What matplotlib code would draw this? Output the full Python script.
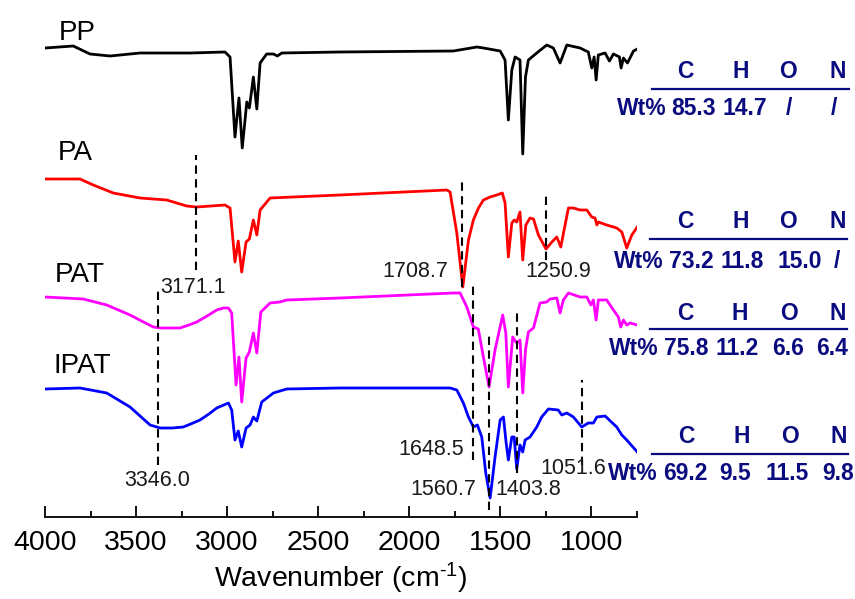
import matplotlib
matplotlib.use("Agg")
import matplotlib.pyplot as plt
from matplotlib.lines import Line2D

plt.rcParams['font.family'] = ['Liberation Sans', 'DejaVu Sans']
plt.rcParams['mathtext.fontset'] = 'custom'
plt.rcParams['mathtext.rm'] = 'Liberation Sans'
plt.rcParams['mathtext.default'] = 'regular'

# ---------------- data (wavenumber, offset transmittance, arbitrary units) ----------------
pp_x = [4000, 3845, 3753, 3643, 3478, 3204, 3012, 2984, 2957, 2935, 2917, 2892, 2878, 2856,
        2837, 2819, 2783, 2746, 2724, 2700, 2380, 1758, 1629, 1593, 1501, 1474, 1456, 1437,
        1419, 1392, 1377, 1362, 1346, 1300, 1245, 1209, 1172, 1135, 1062, 1017, 998, 985,
        974, 962, 925, 901, 879, 846, 837, 824, 802, 769, 748]
pp_y = [469, 471, 463, 461, 464, 464, 465, 460, 380, 419, 369, 415, 409, 440,
        408, 454, 463, 463, 461, 464, 465, 466, 470, 469, 466, 457, 397, 447,
        460, 457, 363, 440, 457, 464, 472, 469, 454, 472, 469, 465, 449, 460,
        437, 462, 464, 456, 463, 460, 449, 459, 454, 466, 468]

pa_x = [4000, 3808, 3735, 3625, 3478, 3332, 3222, 3167, 3012, 2984, 2957, 2939, 2920, 2896,
        2878, 2856, 2837, 2819, 2764, 2380, 1794, 1776, 1739, 1706, 1675, 1648, 1620, 1593,
        1556, 1520, 1489, 1474, 1456, 1437, 1424, 1410, 1392, 1377, 1360, 1337, 1318, 1291,
        1249, 1217, 1190, 1168, 1150, 1126, 1099, 1062, 1025, 998, 980, 970, 962, 916, 861,
        833, 806, 778, 748]
pa_y = [338, 338, 332, 324, 319, 317, 311, 310, 312, 309, 255, 276, 245, 275,
        278, 297, 282, 307, 319, 322, 327, 325, 284, 230, 277, 297, 309, 317,
        320, 322, 324, 314, 260, 294, 297, 295, 305, 257, 292, 299, 298, 282,
        268, 275, 280, 270, 287, 309, 309, 307, 307, 300, 299, 292, 295, 292, 289,
        285, 269, 282, 290]

pat_x = [4000, 3790, 3661, 3533, 3470, 3405, 3368, 3259, 3210, 3167, 3110, 3057, 3020, 2993,
         2975, 2951, 2935, 2920, 2896, 2878, 2856, 2837, 2815, 2764, 2710, 2673, 2380, 1758,
         1721, 1684, 1648, 1621, 1593, 1562, 1529, 1487, 1470, 1456, 1432, 1410, 1392, 1377,
         1362, 1346, 1318, 1282, 1245, 1227, 1190, 1172, 1154, 1126, 1062, 1025, 1003, 989,
         974, 962, 916, 879, 852, 839, 824, 806, 788, 748]
pat_y = [220, 218, 212, 202, 196, 190, 189, 189, 192, 195, 201, 207, 209, 209,
         204, 132, 160, 115, 159, 165, 184, 164, 205, 214, 215, 217, 219, 224,
         224, 210, 190, 188, 160, 130, 167, 202, 184, 130, 180, 174, 177, 124,
         167, 185, 189, 214, 215, 218, 219, 204, 217, 224, 220, 220, 212, 217,
         197, 217, 217, 207, 200, 190, 197, 192, 194, 192]

ipat_x = [4000, 3808, 3661, 3533, 3478, 3423, 3368, 3300, 3241, 3200, 3149, 3100, 3057, 2993,
          2975, 2957, 2939, 2920, 2896, 2874, 2856, 2837, 2810, 2746, 2673, 2380, 1776, 1739,
          1703, 1675, 1648, 1626, 1602, 1580, 1556, 1529, 1501, 1483, 1468, 1456, 1437, 1424,
          1410, 1392, 1377, 1364, 1337, 1300, 1273, 1236, 1182, 1163, 1135, 1099, 1053, 1017,
          989, 970, 925, 861, 833, 806, 748]
ipat_y = [128, 129, 124, 110, 101, 92, 89, 89, 90, 93, 97, 103, 109, 114,
          107, 77, 86, 70, 89, 92, 100, 96, 115, 124, 128, 129, 129, 127,
          114, 100, 90, 92, 80, 44, 19, 60, 97, 100, 74, 57, 80, 80,
          48, 72, 65, 77, 80, 90, 100, 108, 107, 102, 104, 100, 90, 94,
          94, 100, 101, 90, 82, 77, 65]

series_names = ['PP', 'PA', 'PAT', 'IPAT']
series_colors = ['black', '#ff0000', '#ff00ff', '#0000ff']
name_pos = [(3923, 477), (3929, 357), (3945, 235), (3956, 144)]

# peak markers: dashed line position, line extent, label text, label position
mark_x = [3171, 3378, 1712, 1249, 1652, 1562, 1410, 1053]
mark_y0 = [247, 52, 230, 257, 57, 7, 44, 52]
mark_y1 = [362, 227, 337, 324, 232, 182, 207, 137]
mark_text = ['3171.1', '3346.0', '1708.7', '1250.9', '1648.5', '1560.7', '1403.8', '1051.6']
mark_tx = [3187, 3385, 1968, 1183, 1880, 1814, 1348, 1100]
mark_ty = [224, 31, 240, 240, 62, 22, 22, 43]

elements = ['C', 'H', 'O', 'N']
wt_pp = ['85.3', '14.7', '/', '/']
wt_pa = ['73.2', '11.8', '15.0', '/']
wt_pat = ['75.8', '11.2', '6.6', '6.4']
wt_ipat = ['69.2', '9.5', '11.5', '9.8']

xticks = [4000, 3500, 3000, 2500, 2000, 1500, 1000]
xminor = [3750, 3250, 2750, 2250, 1750, 1250, 750]

# ---------------- figure ----------------
W, H = 855, 599
fig = plt.figure(figsize=(W / 100, H / 100), dpi=100)
ax = fig.add_axes([45 / W, 1 - 517 / H, (637.3 - 45) / W, (517 - 20) / H])

for xs, ys, c in zip([pp_x, pa_x, pat_x, ipat_x], [pp_y, pa_y, pat_y, ipat_y], series_colors):
    ax.plot(xs, ys, color=c, lw=2.0, solid_joinstyle='round')

for name, (tx, ty) in zip(series_names, name_pos):
    ax.text(tx, ty, name, fontsize=20, ha='left', va='baseline', color='black')

for mx, y0, y1, t, tx, ty in zip(mark_x, mark_y0, mark_y1, mark_text, mark_tx, mark_ty):
    ax.plot([mx, mx], [y0, y1], color='black', lw=1.5, linestyle=(0, (4, 2.6)))
    ax.text(tx, ty, t, fontsize=15.5, ha='center', va='baseline', color='#1a1a1a')

ax.set_xlim(4000, 748)
ax.set_ylim(0, 497)
ax.set_xticks(xticks)
ax.set_xticks(xminor, minor=True)
ax.tick_params(axis='x', which='major', direction='in', length=8, width=1.3, labelsize=20.5, pad=9)
ax.tick_params(axis='x', which='minor', direction='in', length=4.5, width=1.3)
ax.set_yticks([])
for s in ['left', 'right', 'top']:
    ax.spines[s].set_visible(False)
ax.spines['bottom'].set_linewidth(1.3)
ax.set_xlabel('Wavenumber (cm$^{\u2010 1}$)', fontsize=20.5, labelpad=4)

# ---------------- composition tables ----------------
navy = '#0b0b80'


def fx(x):
    return x / W


def fy(y):
    return 1 - y / H


tables = [
    (wt_pp, 71.7, 89.3, 108.3, 651.7, 849, 642, [694, 745, 789, 834], [685.7, 740.7, 788.3, 837.3]),
    (wt_pa, 221.7, 239.3, 261.7, 650, 847.3, 638.7, [691, 742, 799.5, 837.3], [685.7, 740.7, 788.3, 837.3]),
    (wt_pat, 313.3, 329.3, 348.3, 650, 846.7, 633.9, [686, 737, 787.7, 832], [685, 740, 789.3, 837.3]),
    (wt_ipat, 436.7, 454, 473.3, 651.7, 848.3, 632.7, [685, 735, 786.7, 837.7], [686.7, 741.7, 790, 838.3]),
]
for vals, yh, yl, yw, xl0, xl1, xwt, xv, xh in tables:
    for e, x in zip(elements, xh):
        fig.text(fx(x), fy(yh), e, fontsize=16.5, fontweight='bold', color=navy, ha='center', va='center')
    fig.add_artist(Line2D([fx(xl0), fx(xl1)], [fy(yl), fy(yl)], color=navy, lw=1.6,
                          transform=fig.transFigure))
    fig.text(fx(xwt), fy(yw), 'Wt%', fontsize=16.5, fontweight='bold', color=navy, ha='center', va='center')
    for v, x in zip(vals, xv):
        fig.text(fx(x), fy(yw), v, fontsize=16.5, fontweight='bold', color=navy, ha='center', va='center')

fig.savefig('out.png', dpi=100)
